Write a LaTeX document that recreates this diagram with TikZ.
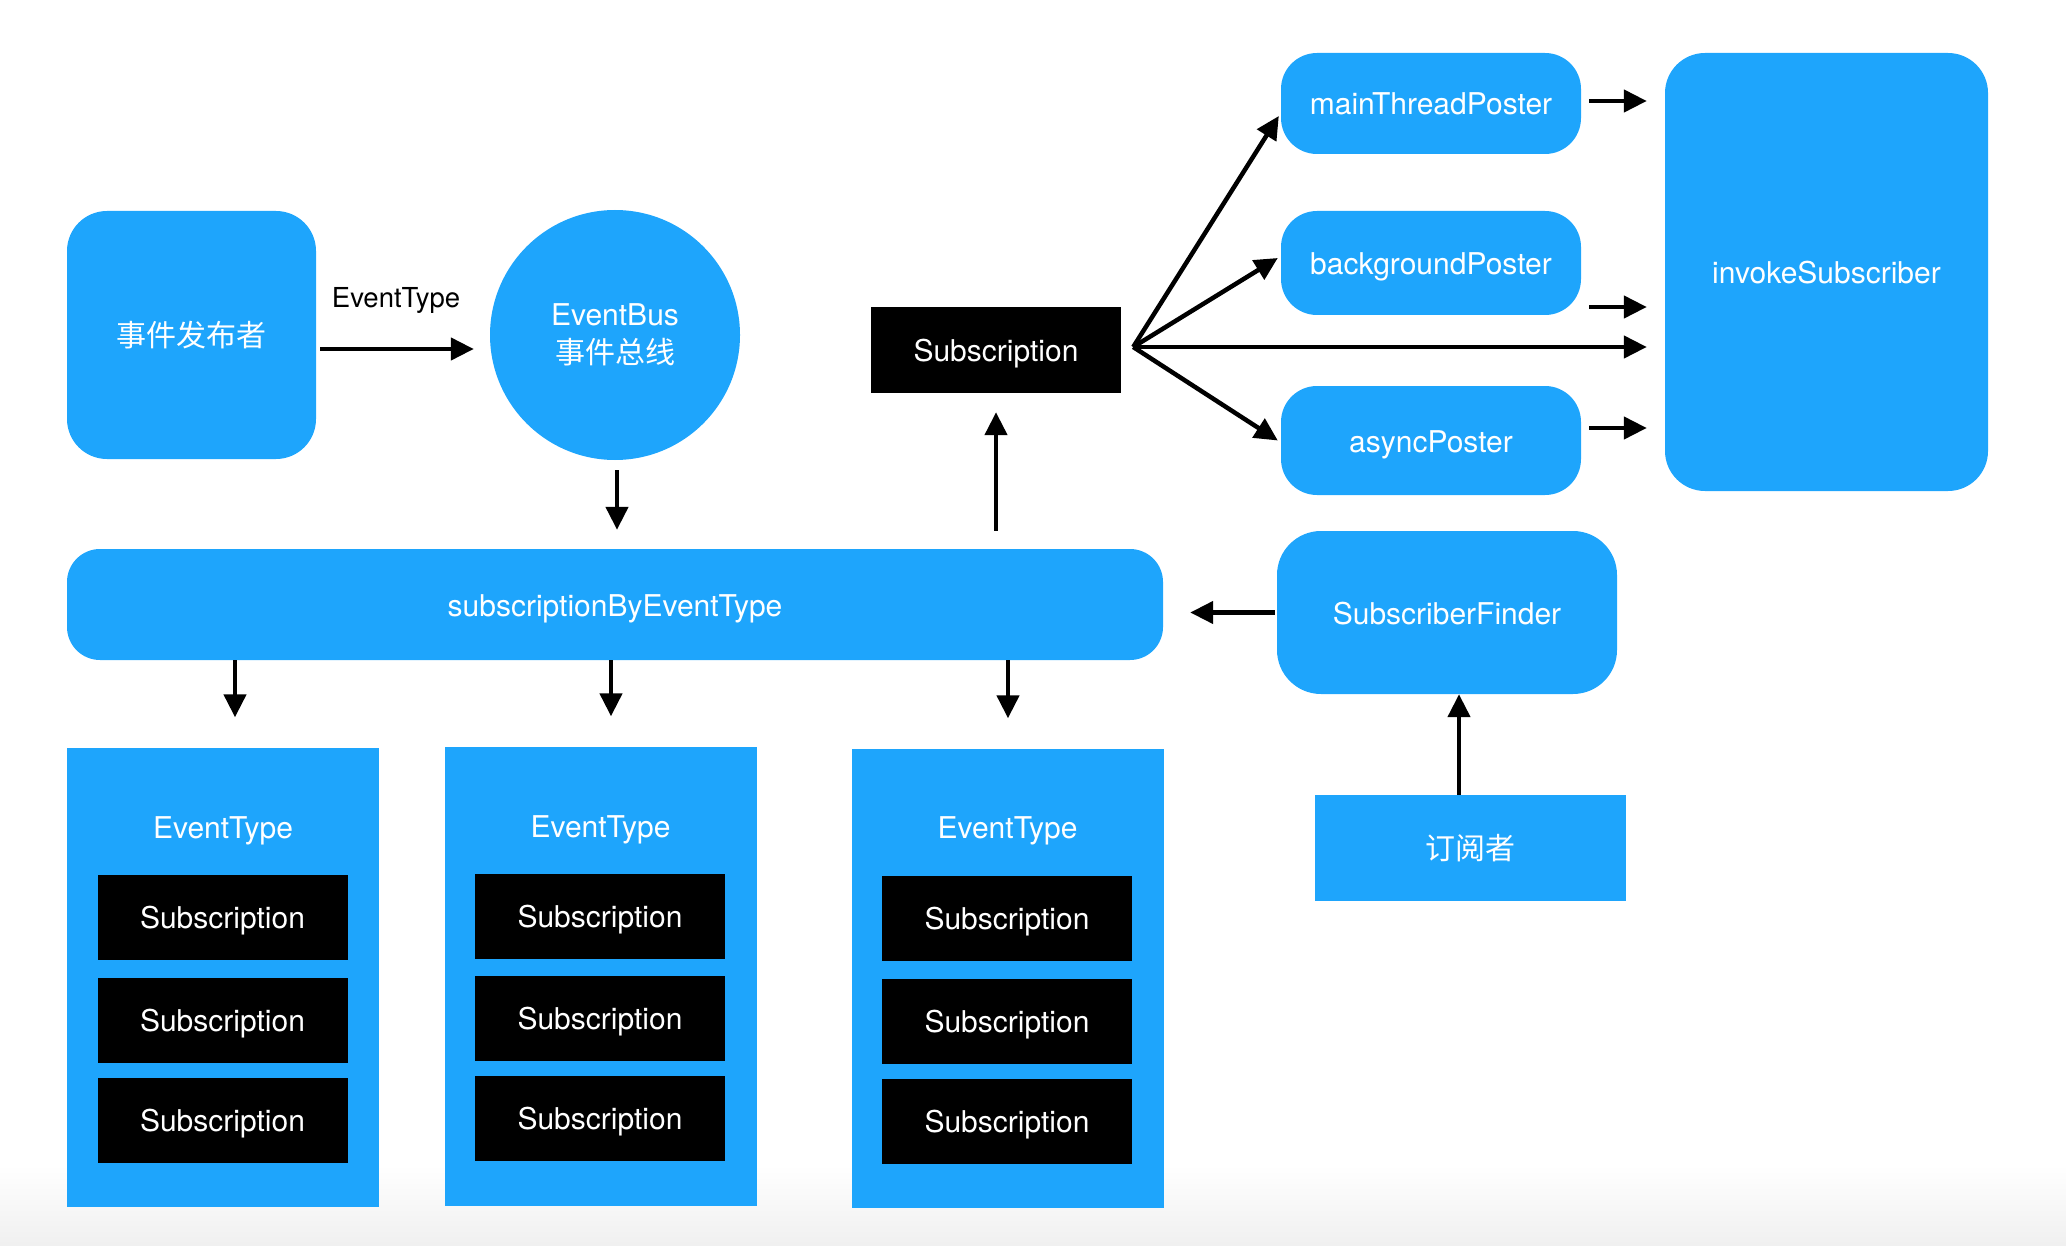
\documentclass[tikz,border=0pt]{standalone}
\usepackage{fontspec}
\setmainfont{TeX Gyre Heros}
\newfontfamily\cjk{Noto Sans CJK SC}
\usetikzlibrary{arrows.meta,calc}
\definecolor{busblue}{RGB}{30,165,252}
\begin{document}
\begin{tikzpicture}[x=1pt,y=-1pt,
  lbl/.style={font=\fontsize{30}{38}\selectfont, text=white, align=center, inner sep=0pt},
  lat/.style={text height=23pt, text depth=0pt},
  box/.style={lbl, fill=busblue},
  rbox/.style={box, rounded corners=#1},
  subbox/.style={lbl, lat, fill=black, minimum width=250pt, minimum height=85pt},
  colbox/.style={box, minimum width=312pt, minimum height=459pt},
  conn/.style={line width=4.5pt, -{Triangle[length=23pt,width=22pt]}},
]
\useasboundingbox (0,0) rectangle (2066,1246);
% soft grey band along the lower edge
\shade[top color=white, bottom color=black!6] (0,1165) rectangle (2066,1246);

% publisher and event bus
\node[rbox=40pt, minimum width=249pt, minimum height=248pt] (pub) at (191.5,335) {{\cjk 事件发布者}};
\node[box, circle, minimum size=250pt] (bus) at (615,335) {EventBus\\{\cjk 事件总线}};
\draw[conn, shorten <=4pt, shorten >=16pt] ($(pub.east)+(0,14)$) -- ($(bus.west)+(0,14)$)
  node[midway, yshift=49pt, xshift=-7pt, font=\fontsize{27.5}{32}\selectfont, inner sep=0pt] (evlabel) {EventType};

% central map
\node[rbox=33pt, lat, minimum width=1096pt, minimum height=111pt] (bar) at (615,604.5) {subscriptionByEventType};
\draw[conn] ($(bus.south)+(2,10)$) -- ($(bar.north)+(2,-19)$);

% per-type columns
\foreach \i/\cx/\cy/\ey/\sa/\sb/\sc/\ax in {1/223/977/827/917/1020/1120/235, 2/600.5/976/826/916/1018/1118/611, 3/1007.5/978/827/918/1021/1121/1008}{
  \node[colbox] (col\i) at (\cx,\cy) {};
  \node[lbl, lat] (ev\i) at (\cx,\ey) {EventType};
  \node[subbox] (s\i a) at (\cx-0.5,\sa) {Subscription};
  \node[subbox] (s\i b) at (\cx-0.5,\sb) {Subscription};
  \node[subbox] (s\i c) at (\cx-0.5,\sc) {Subscription};
  \draw[conn, shorten >=30pt] (\ax,0 |- bar.south) -- (\ax,0 |- col\i.north);
}

% dispatch
\node[subbox, minimum height=86pt] (top) at (996,350) {Subscription};
\draw[conn] ($(bar.north -| top.south)+(0,-18)$) -- ($(top.south)+(0,19)$);

\node[rbox=36pt, lat, minimum width=300pt, minimum height=101pt] (main) at (1431,103.5) {mainThreadPoster};
\node[rbox=36pt, lat, minimum width=300pt, minimum height=104pt] (bg) at (1431,263) {backgroundPoster};
\node[rbox=36pt, lat, minimum width=300pt, minimum height=109pt] (async) at (1431,440.5) {asyncPoster};
\node[rbox=40pt, lat, minimum width=323pt, minimum height=438pt] (invoke) at (1826.5,272) {invokeSubscriber};

\coordinate (fan) at ($(top.east)+(12,-3)$);
\draw[conn] (fan) -- ($(main.west)+(-2,12.5)$);
\draw[conn] (fan) -- ($(bg.west)+(-3,-5)$);
\draw[conn, shorten >=18pt] (fan) -- (fan -| invoke.west);
\draw[conn] (fan) -- ($(async.west)+(-3,0)$);

\coordinate (m1) at ($(main.east)+(8,-2.5)$);
\coordinate (b1) at ($(bg.east)+(8,44)$);
\coordinate (a1) at ($(async.east)+(8,-12.5)$);
\draw[conn, shorten >=18pt] (m1) -- (m1 -| invoke.west);
\draw[conn, shorten >=18pt] (b1) -- (b1 -| invoke.west);
\draw[conn, shorten >=18pt] (a1) -- (a1 -| invoke.west);

% subscriber side
\node[rbox=44pt, lat, minimum width=340pt, minimum height=163pt] (sf) at (1447,612.5) {SubscriberFinder};
\node[box, minimum width=311pt, minimum height=106pt] (subr) at (1470.5,848) {{\cjk 订阅者}};
\draw[conn, shorten <=2pt, shorten >=27pt] (sf.west) -- (sf.west -| bar.east);
\draw[conn] ($(subr.north)+(-11.5,0)$) -- ($(sf.south)+(12,0)$);
\end{tikzpicture}
\end{document}
